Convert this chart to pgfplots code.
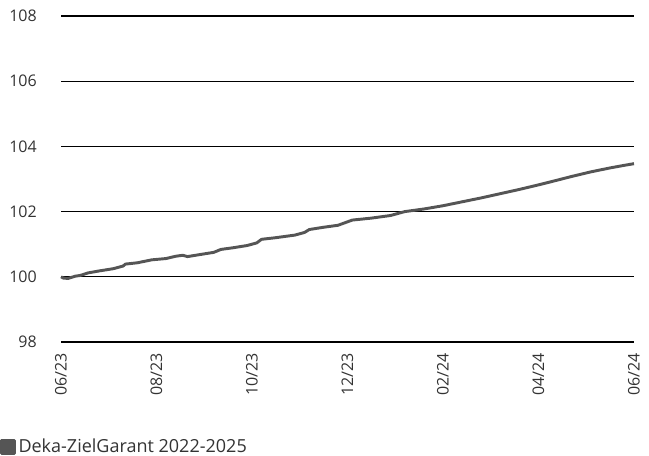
\documentclass[border=0pt]{standalone}
\usepackage{fontspec}
\setmainfont{Open Sans}
\usepackage{pgfplots}
\pgfplotsset{compat=1.18}
\definecolor{txt}{HTML}{333333}
\definecolor{linecol}{HTML}{555555}
\begin{document}
\fontsize{12pt}{14pt}\selectfont
\begin{tikzpicture}
\begin{axis}[
    name=ax,
    scale only axis,
    width=429.75pt,
    height=244.5pt,
    xmin=0, xmax=12,
    ymin=98, ymax=108,
    axis line style={draw=none},
    ymajorgrids,
    grid style={black, line width=0.9pt},
    ytick={98,100,...,108},
    xtick={0,2,...,12},
    xticklabels={06/23,08/23,10/23,12/23,02/24,04/24,06/24},
    major tick length=0pt,
    tick label style={font=\fontsize{12pt}{14pt}\selectfont, text=txt},
    /pgf/number format/assume math mode=true,
    yticklabel style={anchor=east, xshift=-14pt},
    xticklabel style={rotate=90, anchor=east, xshift=-4pt},
    legend style={at={(rel axis cs:-0.1065,-0.356)}, anchor=south west,
        draw=none, inner sep=0pt, font=\fontsize{13.5pt}{15pt}\selectfont, text=txt,
        /tikz/every even column/.append style={column sep=2pt}},
    legend image code/.code={\fill[linecol] (0pt,-4.8pt) rectangle (9.5pt,4.8pt);},
    legend cell align=left,
    clip=false,
]
\addplot[linecol, line width=2.2pt, line join=round] coordinates {
(0.00,100.00) (0.05,99.96) (0.15,99.95) (0.30,100.02) (0.40,100.04)
(0.57,100.12) (0.80,100.18) (1.10,100.25) (1.30,100.33) (1.35,100.39)
(1.60,100.43) (1.90,100.52) (2.20,100.56) (2.40,100.63) (2.55,100.66)
(2.65,100.62) (2.90,100.68) (3.20,100.75) (3.35,100.84) (3.60,100.89)
(3.90,100.96) (4.10,101.04) (4.20,101.15) (4.50,101.20) (4.90,101.28)
(5.10,101.36) (5.20,101.45) (5.50,101.52) (5.80,101.58) (6.10,101.74)
(6.50,101.80) (6.90,101.88) (7.20,102.00) (7.60,102.08) (8.00,102.18)
(8.40,102.30) (8.80,102.42) (9.20,102.55) (9.60,102.68) (10.00,102.82)
(10.30,102.93) (10.70,103.08) (11.10,103.22) (11.50,103.34) (11.80,103.42)
(12.00,103.47)
};
\addlegendentry{Deka-ZielGarant 2022-2025}
\end{axis}
\pgfresetboundingbox
\path ([xshift=-45.75pt,yshift=-85.5pt]ax.south west) rectangle ([xshift=441pt,yshift=12pt]ax.north west);
\end{tikzpicture}
\end{document}
